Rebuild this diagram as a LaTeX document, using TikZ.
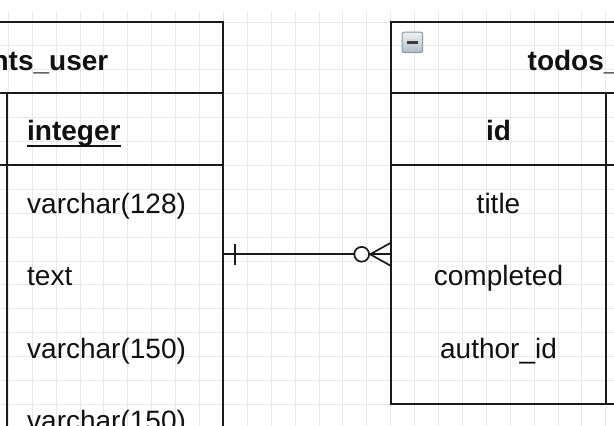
\documentclass[tikz,border=0pt]{standalone}
\usepackage{fontspec}
\setmainfont{Liberation Sans}
\definecolor{gridgray}{HTML}{E8E8E8}
\definecolor{tblblack}{HTML}{1A1A1A}
\definecolor{txt}{HTML}{111111}
\definecolor{iconedge}{HTML}{8C98A6}
\definecolor{icontop}{HTML}{EEF1F5}
\definecolor{iconbot}{HTML}{B4BCC6}
\begin{document}
\begin{tikzpicture}[x=1pt,y=-1pt,
  gridline/.style={draw=gridgray,line width=1pt},
  tblline/.style={draw=tblblack,line width=2pt},
  conn/.style={draw=tblblack,line width=1.7pt},
  field/.style={font=\fontsize{28}{34}\selectfont,inner sep=0pt,text=txt},
  hdr/.style={font=\fontsize{28}{34}\selectfont\bfseries,inner sep=0pt,text=txt}]
\useasboundingbox (0,0) rectangle (614,426);
\clip (0,0) rectangle (614,426);
\fill[white] (0,0) rectangle (614,426);
% grid
\foreach \i in {0,...,16} \draw[gridline] ({390.7-23.9*\i},11) -- ({390.7-23.9*\i},426);
\foreach \i in {1,...,9} \draw[gridline] ({390.7+23.9*\i},11) -- ({390.7+23.9*\i},426);
\foreach \j in {0,...,16} \draw[gridline] (0,{22+23.9*\j}) -- (614,{22+23.9*\j});
% left table (…nts_user)
\draw[tblline] (-10,22) -- (222.7,22) -- (222.7,440);
\draw[tblline] (-10,93) -- (222.7,93);
\draw[tblline] (-10,165) -- (222.7,165);
\draw[tblline] (7.3,93) -- (7.3,440);
% right table (todos_…)
\draw[tblline] (620,22) -- (390.7,22) -- (390.7,404) -- (620,404);
\draw[tblline] (390.7,93) -- (620,93);
\draw[tblline] (390.7,165) -- (620,165);
\draw[tblline] (606,93) -- (606,404);
% collapse icon
\shade[top color=icontop,bottom color=iconbot,draw=iconedge,line width=1pt,rounded corners=2pt]
  (402.2,32.2) rectangle (422.6,52.6);
\draw[draw=tblblack!85,line width=3pt] (406.5,42.4) -- (418.3,42.4);
% texts
\node[hdr,anchor=base east] (uTitle) at (108.5,70) {nts\_user};
\node[hdr,anchor=base west] (tTitle) at (527.5,70) {todos\_};
\node[hdr,anchor=base west] (uPk) at (27,140) {integer};
\draw[draw=txt,line width=2pt] ([yshift=-5.5pt]uPk.base west) -- ([yshift=-5.5pt]uPk.base east);
\node[hdr,anchor=base] (tPk) at (498.5,140) {id};
\node[field,anchor=base west] (uF1) at (27,213) {varchar(128)};
\node[field,anchor=base west] (uF2) at (27,285.5) {text};
\node[field,anchor=base west] (uF3) at (27,358) {varchar(150)};
\node[field,anchor=base west] (uF4) at (27,430.5) {varchar(150)};
\node[field,anchor=base] (tF1) at (498.5,213) {title};
\node[field,anchor=base] (tF2) at (498.5,285.5) {completed};
\node[field,anchor=base] (tF3) at (498.5,358) {author\_id};
% relationship
\coordinate (uEnd) at (222.7,254.3);
\coordinate (tEnd) at (390.7,254.3);
\draw[conn] (uEnd) -- ([xshift=-36.6pt]tEnd);
\draw[conn] ([xshift=12.3pt,yshift=10.5pt]uEnd) -- ([xshift=12.3pt,yshift=-10.5pt]uEnd);
\draw[conn] ([xshift=-29pt]tEnd) circle (7.4pt);
\draw[conn] ([xshift=-20.5pt]tEnd) -- ([yshift=11.5pt]tEnd);
\draw[conn] ([xshift=-20.5pt]tEnd) -- (tEnd);
\draw[conn] ([xshift=-20.5pt]tEnd) -- ([yshift=-11.5pt]tEnd);
\end{tikzpicture}
\end{document}
